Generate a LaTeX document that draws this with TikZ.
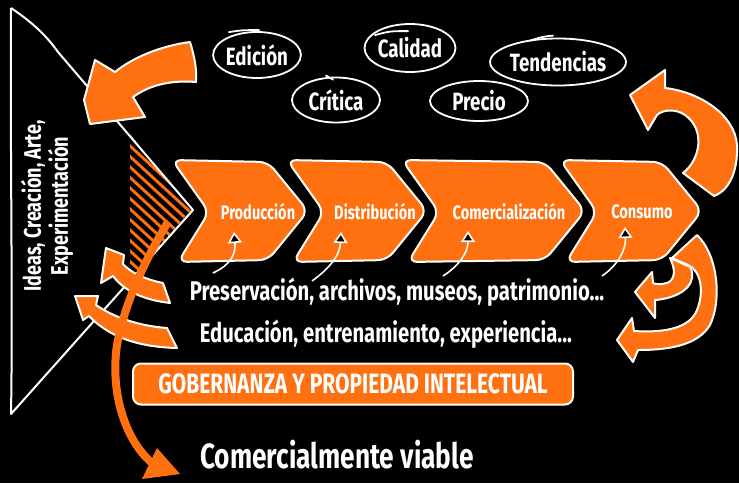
\documentclass[tikz,border=0pt]{standalone}
\usepackage{fontspec}
\setmainfont{Fira Sans}[FakeStretch=0.75]
\usepackage{tikz}
\usetikzlibrary{arrows.meta,shapes.geometric}
\definecolor{sketchorange}{RGB}{255,112,16}
\newcommand{\handfont}[2]{\fontsize{#1}{#2}\selectfont\bfseries}
% one stage of the value chain, from left notch #1 to tip #2
\newcommand{\chevron}[2]{\filldraw[chevbox] (#1,160) -- (#2-40,162) -- (#2,211) -- (#2-40,260) -- (#1+6,262) -- (#1+37,212) -- cycle;}

\begin{document}
\begin{tikzpicture}
[x=1pt, y=-1pt,
% STYLES
chevbox/.style={fill=sketchorange, draw=white, line width=2pt, rounded corners=9pt, line join=round},
% The fat arrows are orange with a white rim
fatarrow/.style={fill=sketchorange, draw=white, line width=2pt, line join=round},
ovaltag/.style={ellipse, draw=white, line width=1.8pt, text=white, inner sep=0pt, font=\handfont{25}{25}},
stroke/.style={white, line width=1.8pt, line cap=round},
stagelabel/.style={text=white, font=\handfont{19.5}{19.5}},
whitetext/.style={text=white, font=\handfont{27}{27}},
govbox/.style={rectangle, rounded corners=8pt, fill=sketchorange, draw=white, line width=2pt, minimum width=440pt, minimum height=41pt, text=white, font=\handfont{28}{28}},
pointer/.style={draw=white, line width=1.6pt, -{Triangle[fill=black, length=11pt, width=14pt]}},
hatchline/.style={black, line width=4.5pt}]

\fill[black] (0,0) rectangle (739,483);
\useasboundingbox (0,0) rectangle (739,483);

% Hatched tip of the funnel
\begin{scope}
\clip (130,134) -- (191,210) -- (130,280) -- cycle;
\fill[sketchorange] (130,134) -- (191,210) -- (130,280) -- cycle;
\foreach \k in {0,...,17} \draw[hatchline] (120,100+10.5*\k) -- ++(100,92);
\end{scope}

% Funnel
\draw[white, line width=2pt, line join=round] (11,8) .. controls (35,24) and (48,38) .. (58,52) -- (193,210) -- (11,414) .. controls (13,300) and (10,150) .. (11,8);

% Draw stages
\chevron{172}{308}
\chevron{287}{427}
\chevron{402}{585}
\chevron{560}{702}

% Left arrows
\filldraw[fatarrow] (163,283) .. controls (148,280) and (132,274) .. (123,264) -- (124,255) -- (106,248) -- (101,283) -- (113,276) .. controls (125,292) and (145,300) .. (170,303) -- cycle;
\filldraw[fatarrow] (167,328) .. controls (140,326) and (115,318) .. (96,305) -- (98,296) -- (75,296) -- (83,320) -- (89,316) .. controls (110,338) and (140,347) .. (177,348) -- cycle;

% Long arrow down to the market
\draw[sketchorange, line width=8pt] (168,222) .. controls (148,255) and (125,300) .. (117,345) .. controls (110,392) and (125,440) .. (152,463);
\fill[sketchorange] (157,448) -- (180,474) -- (142,479) -- cycle;

% Top arrows
\filldraw[fatarrow] (190,42) .. controls (160,46) and (132,58) .. (115,72) -- (95,60) -- (84,100) -- (90,124) -- (145,117) -- (133,97) .. controls (150,85) and (170,80) .. (196,82) .. controls (197,68) and (194,55) .. (190,42) -- cycle;
\filldraw[fatarrow] (665,70) -- (665,88) .. controls (700,92) and (735,115) .. (737,145) .. controls (738,170) and (730,190) .. (714,196) -- (683,173) .. controls (700,160) and (706,130) .. (685,115) .. controls (675,108) and (662,110) .. (657,115) -- (648,130) -- (630,95) -- cycle;

% Bottom right arrows
\filldraw[fatarrow] (697,235) .. controls (718,255) and (722,300) .. (710,325) .. controls (698,345) and (670,350) .. (638,350) -- (633,362) -- (617,340) -- (632,318) -- (634,331) .. controls (665,333) and (690,328) .. (697,310) .. controls (705,290) and (700,270) .. (688,265) -- (672,258) -- cycle;
\filldraw[fatarrow] (670,258) .. controls (676,270) and (675,280) .. (667,283) .. controls (660,285) and (655,284) .. (653,283) -- (652,272) -- (635,292) -- (655,318) -- (655,300) .. controls (670,299) and (690,292) .. (692,278) .. controls (693,270) and (690,266) .. (688,266) -- cycle;

% Quality words
\node[ovaltag, minimum width=87pt, minimum height=46pt] (edicion) at (257,55) {Edición};
\node[ovaltag, minimum width=86pt, minimum height=48pt] (calidad) at (410,48) {Calidad};
\node[ovaltag, minimum width=123pt, minimum height=47pt] (tendencias) at (558,62) {Tendencias};
\node[ovaltag, minimum width=88pt, minimum height=45pt] (critica) at (336,100) {Crítica};
\node[ovaltag, minimum width=98pt, minimum height=40pt] (precio) at (479,101) {Precio};
% overshooting pen strokes
\draw[stroke] ([shift={(-28,1)}]edicion.north) .. controls ([shift={(-15,-1)}]edicion.north) .. ([shift={(2,-1)}]edicion.north);
\draw[stroke] ([shift={(-35,12)}]calidad.north) .. controls ([shift={(-20,8)}]calidad.north) .. ([shift={(-2,8)}]calidad.north);
\draw[stroke] ([shift={(-28,3)}]tendencias.north) .. controls ([shift={(-15,-1)}]tendencias.north) .. ([shift={(-5,-2)}]tendencias.north);
\draw[stroke] ([shift={(-10,-1)}]critica.north) -- ([shift={(-3,3)}]critica.north);

% Funnel text
\node[text=white, rotate=90, align=center, font=\handfont{24}{27}] (ideas) at (47,206) {Ideas, Creación, Arte,\\Experimentación};

% Stage names
\node[stagelabel] (prod) at (258,212) {Producción};
\node[stagelabel] (dist) at (375,212) {Distribución};
\node[stagelabel] (comer) at (509,212) {Comercialización};
\node[stagelabel] (cons) at (642,212) {Consumo};

% Small pointers into the stages
\coordinate (prodtail) at (213,273);
\coordinate (prodhead) at (234,232);
\coordinate (disttail) at (312,281);
\coordinate (disthead) at (341,232);
\coordinate (comertail) at (443,276);
\coordinate (comerhead) at (468,231);
\coordinate (constail) at (602,276);
\coordinate (conshead) at (625,227);
\draw[pointer] (prodtail) .. controls (230,265) and (236,255) .. (prodhead);
\draw[pointer] (disttail) .. controls (330,268) and (340,255) .. (disthead);
\draw[pointer] (comertail) .. controls (460,265) and (468,252) .. (comerhead);
\draw[pointer] (constail) .. controls (618,265) and (626,250) .. (conshead);

% Support layers
\node[whitetext] (pres) at (397,292) {Preservación, archivos, museos, patrimonio...};
\node[whitetext] (edu) at (386,334) {Educación, entrenamiento, experiencia...};
\node[govbox] (gob) at (353,384) {GOBERNANZA Y PROPIEDAD INTELECTUAL};
\node[text=white, inner sep=0pt, font=\handfont{35}{35}] (viable) at (337,455) {Comercialmente viable};

\end{tikzpicture}
\end{document}
